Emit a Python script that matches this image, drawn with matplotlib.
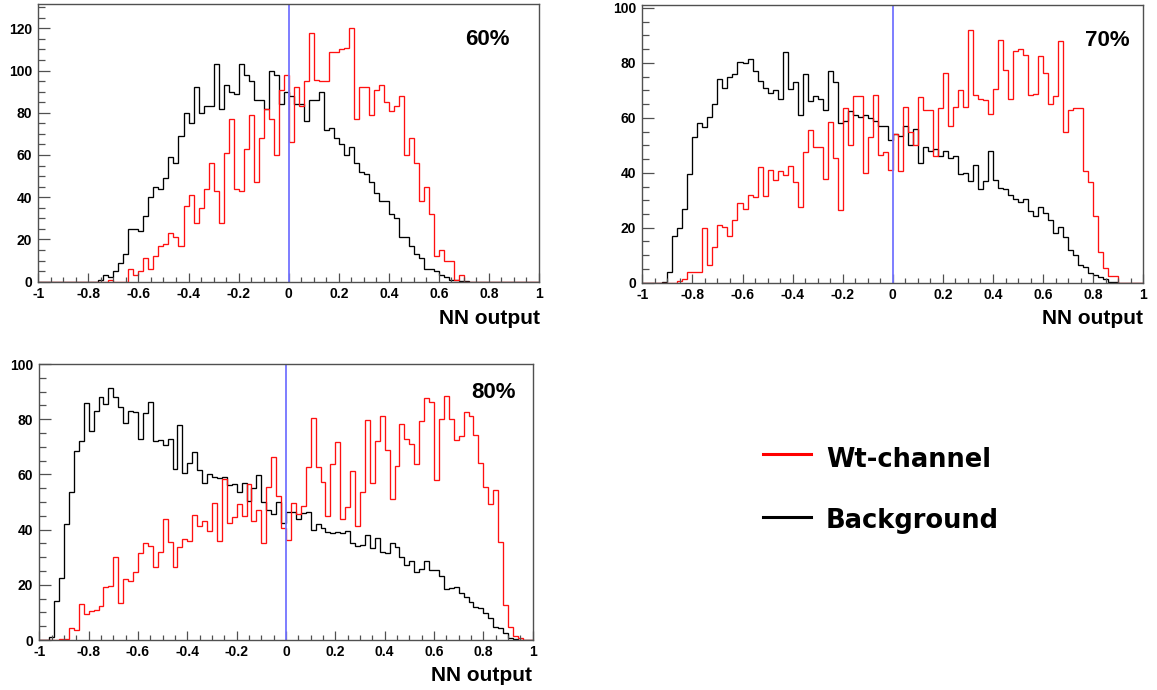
import numpy as np
import matplotlib
matplotlib.use("Agg")
import matplotlib.pyplot as plt
from matplotlib.lines import Line2D
from matplotlib.ticker import MultipleLocator

# ---------------- data ----------------
bin_edges = np.round(np.linspace(-1.0, 1.0, 101), 4)

bkg_60 = [0, 0, 0, 0, 0, 0, 0, 0, 0, 0,
          0, 0, 1, 3, 2, 5, 9, 13, 25, 25,
          24, 31, 40, 45, 44, 49, 59, 56, 69, 80,
          75, 92, 80, 83, 83, 103, 82, 93, 90, 89,
          103, 98, 95, 86, 86, 82, 100, 98, 84, 90,
          88, 84, 84, 76, 86, 86, 90, 72, 73, 68,
          65, 60, 64, 56, 52, 51, 47, 42, 38, 38,
          32, 30, 21, 21, 17, 13, 11, 6, 6, 5,
          3, 2, 1, 1, 0.5, 0.3, 0, 0, 0, 0,
          0, 0, 0, 0, 0, 0, 0, 0, 0, 0]
sig_60 = [0, 0, 0, 0, 0, 0, 0, 0, 0, 0,
          0, 0, 0, 0, 1, 0, 0, 0, 6, 3,
          5, 11, 6, 12, 17, 18, 23, 21, 17, 36,
          41, 28, 35, 44, 56, 43, 28, 61, 77, 44,
          43, 63, 79, 47, 68, 82, 77, 60, 91, 98,
          66, 92, 83, 95, 118, 95.5, 95, 95, 109, 109,
          110, 110.5, 120, 77, 92, 92, 79, 91, 93, 85,
          81, 83, 88, 60, 68, 56, 38, 45, 32, 12,
          15, 10, 10, 1, 3, 0, 0, 0, 0, 0,
          0, 0, 0, 0, 0, 0, 0, 0, 0, 0]

bkg_70 = [0, 0, 0, 0, 0.4, 4, 17, 20, 27, 39.5,
          53, 58, 56.5, 60.5, 65, 74, 71, 75, 76, 80.5,
          80, 81.5, 77, 73.5, 71, 69, 70, 67, 84, 70.5,
          73, 61, 76, 66, 68, 67, 63, 77, 73, 58,
          58.7, 62.6, 61, 60.5, 61, 60, 58.7, 57, 57, 52,
          54, 53.5, 57, 50, 56, 43.5, 49.5, 48, 48.5, 46,
          48, 45.5, 46, 39.6, 40, 37, 43, 34, 37, 48,
          37.4, 34.4, 34, 32, 30.5, 29.5, 30.5, 26, 24.3, 27.5,
          25.3, 23, 18, 20.4, 16.5, 12, 10, 6.4, 5.8, 3.4,
          2.8, 2, 1.2, 0.4, 0.2, 0, 0, 0, 0, 0]
sig_70 = [0, 0, 0, 0, 0, 0, 0, 0.6, 1.2, 4,
          4, 4, 20, 6.4, 13, 21, 20.4, 17, 23, 29,
          27, 32, 31.3, 42, 31.5, 41, 37.4, 40.6, 39.2, 42.6,
          36.8, 27.5, 47.7, 55.6, 49.3, 49.3, 37.8, 58.4, 45.3, 26.5,
          63.5, 50, 67.8, 67.8, 40, 53, 68.2, 46.5, 47.7, 41,
          54, 40.5, 64, 54.8, 50, 67.6, 63, 63, 46, 63.6,
          76.3, 57, 64, 70, 64, 92, 68.4, 66.8, 66.6, 61.4,
          70.5, 88.5, 77.3, 66.8, 84.2, 85, 83, 68.2, 68.7, 82.4,
          76.5, 65, 68, 88, 54.7, 63, 63.5, 63.5, 40.8, 36.8,
          24.3, 11.2, 5.2, 2.4, 2.4, 0, 0, 0, 0, 0]

bkg_80 = [0, 0, 1, 14, 22.3, 42, 53.7, 68.6, 72.2, 85.7,
          75.7, 83, 88, 85.5, 91.2, 88, 84.5, 78.7, 83, 82.7,
          72.8, 82.4, 86.4, 72.2, 72.5, 70.7, 72.8, 62, 78, 60.4,
          64, 68.2, 61.6, 57, 60, 59.2, 58.6, 59, 56.2, 56.4,
          53.7, 56.8, 50.4, 55.2, 59.8, 50, 47, 45.6, 50, 42.3,
          46.5, 46.5, 43.7, 45.9, 46.5, 40, 42, 40.5, 39.3, 38.9,
          39.3, 38.6, 39.6, 35.3, 34, 34.4, 38, 33.2, 37, 32,
          31.6, 35, 33.6, 30.2, 27.2, 28.6, 24.5, 25.6, 28.6, 25.4,
          25.4, 23.2, 18.4, 18.7, 19.1, 16.9, 15.5, 13.9, 12, 11.5,
          9.9, 7.9, 4.8, 4.2, 2.4, 0.8, 0.2, 0, 0, 0]
sig_80 = [0, 0, 0, 0, 0.3, 0.3, 4.2, 3.6, 13, 9.3,
          10.6, 11, 12.5, 19.3, 19.7, 30, 13.3, 22, 21.5, 24.8,
          31.4, 35, 34, 26.6, 31.8, 44, 35.6, 26.3, 33.6, 36.5,
          36, 45.3, 41.4, 43.2, 39.5, 49.5, 36, 58.3, 42.3, 44.4,
          49.3, 45, 56.4, 43.1, 47, 35, 55.6, 66.4, 52.2, 40.5,
          36.2, 49.5, 45.6, 48.6, 62.8, 80.6, 62.8, 57.4, 45, 63.6,
          71.9, 44, 48.3, 61.2, 41.4, 53.5, 79.7, 57, 72.2, 81.3,
          68.8, 51.1, 63, 78.1, 72.7, 70.9, 63.8, 79.5, 87.6, 86.4,
          58, 80, 88.5, 80, 72.5, 73.9, 82.5, 81, 74.3, 64,
          55.6, 49.3, 54.3, 35.6, 12.7, 4.8, 1.4, 0.6, 0, 0]

panel_labels = ["60%", "70%", "80%"]
y_max = [131.5, 101.2, 100.0]
y_ticks = [[0, 20, 40, 60, 80, 100, 120], [0, 20, 40, 60, 80, 100], [0, 20, 40, 60, 80, 100]]
x_ticks = [-1, -0.8, -0.6, -0.4, -0.2, 0, 0.2, 0.4, 0.6, 0.8, 1]
x_tick_labels = ["-1", "-0.8", "-0.6", "-0.4", "-0.2", "0", "0.2", "0.4", "0.6", "0.8", "1"]
x_title = "NN output"
legend_labels = ["Wt-channel", "Background"]

# ---------------- layout ----------------
W, H = 1157, 690
fig = plt.figure(figsize=(W / 100, H / 100), dpi=100)


def px_axes(x0, y0, x1, y1):
    return fig.add_axes([x0 / W, 1 - y1 / H, (x1 - x0) / W, (y1 - y0) / H])


boxes = [(38.3, 4.0, 539.0, 281.7), (642.3, 4.7, 1143.3, 282.7), (39.3, 364.0, 532.7, 640.0)]
label_pos = [(510, 39.5), (1130, 40.5), (516, 392.5)]
title_pos = [(540, 318.5), (1143, 319), (532, 675.5)]

tick_font = dict(family="Liberation Sans", weight="bold", size=10)
sig_series = [sig_60, sig_70, sig_80]
bkg_series = [bkg_60, bkg_70, bkg_80]
frame_col = "#505050"

for i in range(3):
    ax = px_axes(*boxes[i])
    ax.stairs(bkg_series[i], bin_edges, color="black", lw=0.95)
    ax.stairs(sig_series[i], bin_edges, color="#ff1010", lw=0.95)
    ax.axvline(0, color="#7373ff", lw=1.3)
    ax.set_xlim(-1, 1)
    ax.set_ylim(0, y_max[i])
    ax.set_xticks(x_ticks)
    ax.set_xticklabels(x_tick_labels, fontdict=tick_font)
    ax.set_yticks(y_ticks[i])
    ax.set_yticklabels([str(v) for v in y_ticks[i]], fontdict=tick_font)
    ax.xaxis.set_minor_locator(MultipleLocator(0.05))
    ax.yaxis.set_minor_locator(MultipleLocator(5))
    ax.tick_params(axis="x", which="major", direction="in", length=6.5, width=0.9,
                   color=frame_col, pad=3.5, top=False)
    ax.tick_params(axis="x", which="minor", direction="in", length=3.6, width=0.9,
                   color=frame_col, top=False)
    ax.tick_params(axis="y", which="major", direction="in", length=8.5, width=0.9,
                   color=frame_col, pad=4.5, right=False)
    ax.tick_params(axis="y", which="minor", direction="in", length=5.2, width=0.9,
                   color=frame_col, right=False)
    for sp in ax.spines.values():
        sp.set_color(frame_col)
        sp.set_linewidth(1.0)
    lx, ly = label_pos[i]
    fig.text(lx / W, 1 - ly / H, panel_labels[i], ha="right", va="center",
             family="Liberation Sans", weight="bold", size=16)
    tx, ty = title_pos[i]
    fig.text(tx / W, 1 - ty / H, x_title, ha="right", va="center",
             family="Liberation Sans", weight="bold", size=15)

# ---------------- legend ----------------
leg_colors = ["#ff0000", "black"]
leg_y = [454.3, 516.7]
leg_base = [466.7, 528.3]
for c, ly, lb, lab in zip(leg_colors, leg_y, leg_base, legend_labels):
    fig.add_artist(Line2D([762.7 / W, 811 / W], [1 - ly / H, 1 - ly / H], color=c, lw=2.2))
    fig.text(826 / W, 1 - lb / H, lab, ha="left", va="baseline",
             family="DejaVu Sans", weight="bold", size=18.5)

fig.savefig("out.png", dpi=100)
